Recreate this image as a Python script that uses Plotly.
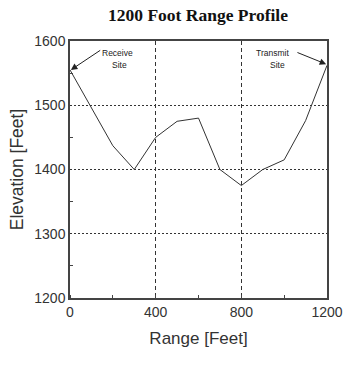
import plotly.graph_objects as go

# Terrain profile along the 1200 ft path
range_ft = [0, 200, 300, 400, 500, 600, 700, 800, 900, 1000, 1100, 1200]
elevation_ft = [1555, 1437, 1400, 1450, 1475, 1480, 1400, 1375, 1400, 1415, 1476, 1562]

x_ticks = [0, 400, 800, 1200]
y_ticks = [1200, 1300, 1400, 1500, 1600]

sans = "Liberation Sans, Arial, sans-serif"
serif = "Liberation Serif, Times New Roman, serif"
axis_col = "#444444"
label_font = dict(family=sans, size=8.5, color="#222222")

fig = go.Figure()
fig.add_trace(go.Scatter(
    x=range_ft, y=elevation_ft, mode="lines",
    line=dict(color="#333333", width=1), hoverinfo="skip", showlegend=False,
))

# Arrows pointing at the path end points
fig.add_annotation(x=range_ft[0] + 4, y=elevation_ft[0], ax=148, ay=1587,
                   axref="x", ayref="y", xref="x", yref="y", text="",
                   showarrow=True, arrowhead=2, arrowsize=1.3, arrowwidth=1,
                   arrowcolor="#222222")
fig.add_annotation(x=range_ft[-1] - 4, y=elevation_ft[-1] + 2, ax=1055, ay=1583,
                   axref="x", ayref="y", xref="x", yref="y", text="",
                   showarrow=True, arrowhead=2, arrowsize=1.3, arrowwidth=1,
                   arrowcolor="#222222")
# Site labels, one line each
for txt, xv, yv in [("Receive", 220, 1582), ("Site", 229, 1562),
                    ("Transmit", 945, 1582), ("Site", 969, 1562)]:
    fig.add_annotation(x=xv, y=yv, xref="x", yref="y", text=txt,
                       showarrow=False, font=label_font)

fig.update_layout(
    width=350, height=366,
    margin=dict(l=70, r=23, t=41, b=68),
    paper_bgcolor="white", plot_bgcolor="white",
    title=dict(text="<b>1200 Foot Range Profile</b>", x=198 / 350,
               xanchor="center", y=1 - 15 / 366, yanchor="middle",
               font=dict(family=serif, size=17.5, color="#111111")),
    xaxis=dict(
        range=[0, 1200], tickvals=x_ticks, ticktext=[str(v) for v in x_ticks],
        showline=True, linecolor=axis_col, linewidth=1.5, mirror=True,
        showgrid=True, gridcolor="#333333", gridwidth=1, griddash="4px,3px",
        ticks="", zeroline=False, automargin=False,
        minor=dict(ticks="inside", ticklen=3, tickcolor=axis_col, dtick=200,
                   tick0=0, showgrid=False),
        tickfont=dict(family=sans, size=14, color="#333333"),
        title=dict(text="Range [Feet]", standoff=14,
                   font=dict(family=sans, size=17, color="#333333")),
    ),
    yaxis=dict(
        range=[1200, 1600], tickvals=y_ticks, ticktext=[str(v) for v in y_ticks],
        showline=True, linecolor=axis_col, linewidth=1.5, mirror=True,
        showgrid=True, gridcolor="#333333", gridwidth=1, griddash="2px,2px",
        ticks="", zeroline=False, automargin=False,
        minor=dict(ticks="inside", ticklen=3, tickcolor=axis_col, dtick=100,
                   tick0=1250, showgrid=False),
        tickfont=dict(family=sans, size=14, color="#333333"),
        title=dict(text="Elevation [Feet]", standoff=6,
                   font=dict(family=sans, size=17.5, color="#333333")),
    ),
)

fig.write_html("out.html")
